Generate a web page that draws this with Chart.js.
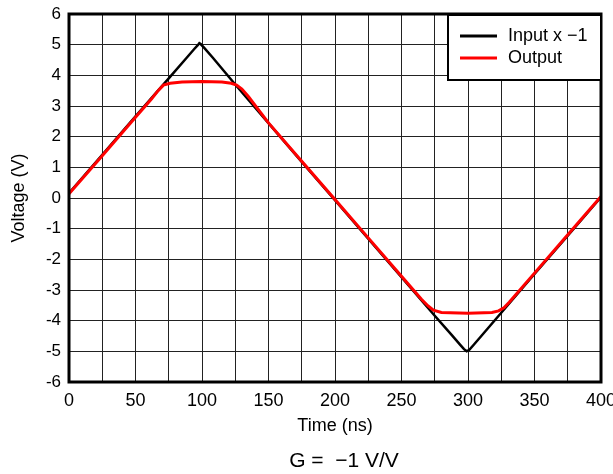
<!DOCTYPE html>
<html>
<head>
<meta charset="utf-8">
<script src="https://cdn.jsdelivr.net/npm/chart.js@4/dist/chart.umd.min.js"></script>
<style>
  html, body { margin: 0; padding: 0; background: #fff; overflow: hidden; }
  #grafica { display: block; }
</style>
</head>
<body>
<canvas id="grafica" width="613" height="474"></canvas>
<script>
// datos (tiempo en ns, voltaje en V)
const tiempoEntrada = [0, 25, 50, 75, 88, 94, 97, 98, 99, 102, 108, 125, 150, 175, 200, 225, 250, 275, 288, 294, 297, 299, 301, 304, 310, 325, 350, 375, 400];
const voltajeEntrada = [0.16, 1.41, 2.66, 3.9, 4.55, 4.85, 4.99, 5.05, 5.02, 4.88, 4.58, 3.7, 2.44, 1.18, -0.07, -1.33, -2.58, -3.84, -4.48, -4.78, -4.93, -5.0, -4.95, -4.8, -4.5, -3.74, -2.48, -1.23, 0.03];

const tiempoSalida = [0, 25, 50, 62, 67, 71, 76, 85, 100, 115, 122, 126, 130, 135, 150, 175, 200, 225, 250, 265, 270, 274, 280, 300, 318, 323, 327, 331, 350, 375, 400];
const voltajeSalida = [0.14, 1.38, 2.63, 3.23, 3.5, 3.68, 3.74, 3.78, 3.8, 3.78, 3.74, 3.68, 3.55, 3.3, 2.45, 1.2, -0.05, -1.3, -2.55, -3.3, -3.52, -3.66, -3.73, -3.76, -3.73, -3.68, -3.58, -3.4, -2.45, -1.2, 0.05];

const etiquetasSerie = ['Input x \u22121', 'Output'];
const coloresSerie = ['#000000', '#ff0000'];
const ticksX = [0, 50, 100, 150, 200, 250, 300, 350, 400];
const textoGanancia = 'G =  \u22121 V/V';

const aPuntos = (xs, ys) => xs.map((x, i) => ({ x: x, y: ys[i] }));

const FUENTE = "'Liberation Sans', Arial, sans-serif";
Chart.defaults.font.family = FUENTE;
Chart.defaults.color = '#000';

// caja negra alrededor del area, leyenda dentro y texto de ganancia abajo
const pluginMarco = {
    id: 'marco',
    afterDatasetsDraw(chart) {
        const { ctx, chartArea: a } = chart;
        ctx.save();
        ctx.strokeStyle = '#000';
        ctx.lineWidth = 3;
        ctx.strokeRect(a.left, a.top, a.right - a.left, a.bottom - a.top);

        // leyenda
        const lx = a.right - 153, ly = a.top, lw = 153, lh = 66;
        ctx.fillStyle = '#fff';
        ctx.fillRect(lx, ly, lw, lh);
        ctx.lineWidth = 2;
        ctx.strokeRect(lx, ly + 1, lw, lh - 1);
        ctx.font = '18px ' + FUENTE;
        ctx.textBaseline = 'middle';
        chart.data.datasets.forEach((ds, i) => {
            const y = ly + 22 + i * 22;
            ctx.strokeStyle = ds.borderColor;
            ctx.lineWidth = 3;
            ctx.beginPath();
            ctx.moveTo(lx + 12, y);
            ctx.lineTo(lx + 49, y);
            ctx.stroke();
            ctx.fillStyle = '#000';
            ctx.fillText(ds.label, lx + 60, y);
        });

        // ganancia
        ctx.font = '21px ' + FUENTE;
        ctx.textAlign = 'center';
        ctx.fillText(textoGanancia, (a.left + a.right) / 2 + 9, chart.height - 13);
        ctx.restore();
    }
};

new Chart(document.getElementById('grafica'), {
    type: 'line',
    data: {
        datasets: [
            { label: etiquetasSerie[0], data: aPuntos(tiempoEntrada, voltajeEntrada), borderColor: coloresSerie[0], borderWidth: 2.5, pointRadius: 0, tension: 0, order: 2 },
            { label: etiquetasSerie[1], data: aPuntos(tiempoSalida, voltajeSalida), borderColor: coloresSerie[1], borderWidth: 3, pointRadius: 0, tension: 0, order: 1 }
        ]
    },
    options: {
        responsive: false,
        animation: false,
        devicePixelRatio: 1,
        layout: { padding: { top: 14, right: 12, left: 0, bottom: 32 } },
        plugins: {
            legend: { display: false },
            tooltip: { enabled: false }
        },
        scales: {
            x: {
                type: 'linear',
                min: 0, max: 400,
                ticks: {
                    stepSize: 25, autoSkip: false, maxRotation: 0, padding: 8,
                    font: { size: 18 },
                    callback: v => ticksX.includes(v) ? String(v) : ''
                },
                grid: { color: '#222', lineWidth: 1, drawTicks: false },
                border: { display: false },
                title: { display: true, text: 'Time (ns)', font: { size: 18 }, padding: { top: 4, bottom: 5 } },
                afterFit(scale) { scale.height = 60; scale.paddingRight = 0; scale.paddingLeft = 0; }
            },
            y: {
                min: -6, max: 6,
                ticks: { stepSize: 1, padding: 8, font: { size: 17 } },
                grid: { color: '#222', lineWidth: 1, drawTicks: false },
                border: { display: false },
                title: { display: true, text: 'Voltage (V)', font: { size: 18 }, padding: { top: 8, bottom: 0 } },
                afterFit(scale) { scale.width = 69; scale.paddingTop = 0; scale.paddingBottom = 0; }
            }
        }
    },
    plugins: [pluginMarco]
});
</script>
</body>
</html>
